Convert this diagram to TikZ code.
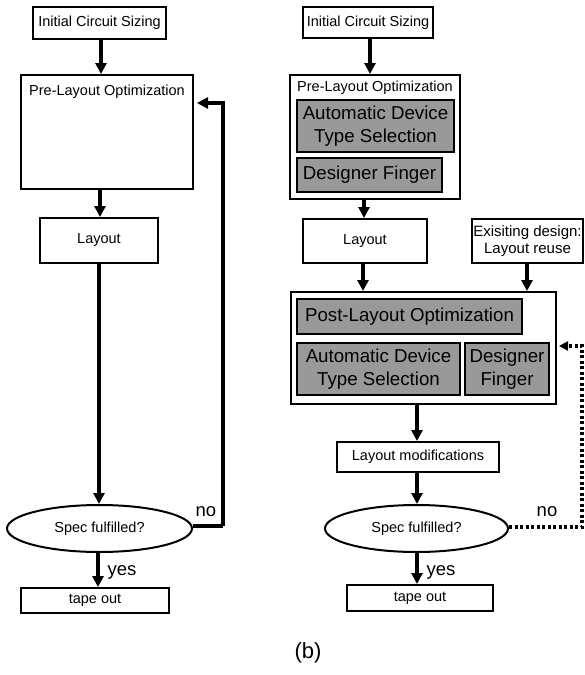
\documentclass[tikz,border=0pt]{standalone}
\usepackage{fontspec}
\setmainfont{Liberation Sans}
\usetikzlibrary{arrows.meta,shapes.geometric}
\definecolor{boxgray}{gray}{0.6}
\tikzset{
 box/.style={draw, line width=2pt, rectangle, inner sep=0pt, align=center, font=\fontsize{14.5}{17}\selectfont},
 graybox/.style={draw, line width=2.8pt, fill=boxgray, inner sep=0pt, align=center, font=\fontsize{18.7}{22.5}\selectfont},
 decision/.style={draw, line width=2pt, ellipse, inner sep=0pt, font=\fontsize{14.5}{17}\selectfont},
 txt/.style={inner sep=0pt, font=\fontsize{14.5}{17}\selectfont},
 flow/.style={line width=3.5pt, -{Triangle[length=11pt,width=11pt]}},
 dotflow/.style={line width=3.5pt, dash pattern=on 3pt off 2.5pt, -{Triangle[length=9pt,width=9pt]}},
 lbl/.style={font=\fontsize{18.5}{22}\selectfont, inner sep=0pt},
}
\begin{document}
\begin{tikzpicture}[x=1pt,y=-1pt]
\useasboundingbox (0,0) rectangle (585,675);

% ---------------- left flow ----------------
\node[box, minimum width=133pt, minimum height=32pt] (Linit) at (99.5,23) {Initial Circuit Sizing};
\node[box, minimum width=172pt, minimum height=114pt] (Lpre) at (107,132) {};
\node[txt] (Lpretxt) at (107,92) {Pre-Layout Optimization};
\node[box, minimum width=118pt, minimum height=45pt] (Llay) at (99,240.5) {Layout};
\node[decision, minimum width=185pt, minimum height=47pt] (Lspec) at (99.5,528.5) {Spec fulfilled?};
\node[box, minimum width=148pt, minimum height=25pt] (Ltape) at (95,600.5) {tape out};

\draw[flow] (Linit.south -| 101,0) -- (Lpre.north -| 101,0);
\draw[flow] (Lpre.south -| 100,0) -- (Llay.north -| 100,0);
\draw[flow] (Llay.south -| 99,0) -- (Lspec.north -| 99,0);
\draw[flow] (Lspec.south -| 98,0) -- (Ltape.north -| 98,0);
\node[lbl] (Lyes) at (122,572) {yes};
\coordinate (Lc1) at (223,526);
\coordinate (Lc2) at (223,103);
\draw[line width=3.5pt] (Lspec.east |- 0,526) -- (Lc1);
\draw[flow, shorten >=3pt] (Lc1) -- (Lc2) -- (Lc2 -| Lpre.east);
\node[lbl] (Lno) at (206,512) {no};

% ---------------- right flow ----------------
\node[box, minimum width=130pt, minimum height=31pt] (Rinit) at (368,22.5) {Initial Circuit Sizing};
\node[box, minimum width=170pt, minimum height=124pt] (Rpre) at (375,137) {};
\node[txt] (Rpretxt) at (375,88) {Pre-Layout Optimization};
\node[graybox, minimum width=157pt, minimum height=52pt] (Radts) at (375.5,126) {Automatic Device\\Type Selection};
\node[graybox, minimum width=145pt, minimum height=34pt] (Rdf) at (369.5,175) {Designer Finger};
\node[box, minimum width=124pt, minimum height=44pt] (Rlay) at (365,241) {Layout};
\node[box, minimum width=111pt, minimum height=44pt, font=\fontsize{15}{17.5}\selectfont] (Rexist) at (527.5,241) {Exisiting design:\\Layout reuse};
\node[box, minimum width=265pt, minimum height=112pt] (Rpost) at (423.5,348) {};
\node[graybox, minimum width=225pt, minimum height=35pt] (Rplo) at (409.5,316.5) {Post-Layout Optimization};
\node[graybox, minimum width=163pt, minimum height=52pt] (Radts2) at (378.5,369) {Automatic Device\\Type Selection};
\node[graybox, minimum width=84pt, minimum height=52pt] (Rdf2) at (507,369) {Designer\\Finger};
\node[box, minimum width=162pt, minimum height=30pt] (Rmod) at (418,457) {Layout modifications};
\node[decision, minimum width=183pt, minimum height=47pt] (Rspec) at (416.5,528.5) {Spec fulfilled?};
\node[box, minimum width=146pt, minimum height=26pt] (Rtape) at (420,598) {tape out};

\draw[flow] (Rinit.south -| 370,0) -- (Rpre.north -| 370,0);
\draw[flow] (Rpre.south -| 364,0) -- (Rlay.north -| 364,0);
\draw[flow] (Rlay.south -| 363,0) -- (Rpost.north -| 363,0);
\draw[flow] (Rexist.south -| 527,0) -- (Rpost.north -| 527,0);
\draw[flow] (Rpost.south -| 417,0) -- (Rmod.north -| 417,0);
\draw[flow] (Rmod.south -| 417,0) -- (Rspec.north -| 417,0);
\draw[flow] (Rspec.south -| 417,0) -- (Rtape.north -| 417,0);
\node[lbl] (Ryes) at (441,572) {yes};
\coordinate (Rc1) at (582,527);
\coordinate (Rc2) at (582,346);
\draw[dotflow, shorten >=2pt] (Rspec.east |- 0,527) -- (Rc1) -- (Rc2) -- (Rc2 -| Rpost.east);
\node[lbl] (Rno) at (547,512) {no};

\node[font=\fontsize{22}{26}\selectfont, inner sep=0pt] (cap) at (308,653) {(b)};
\end{tikzpicture}
\end{document}
